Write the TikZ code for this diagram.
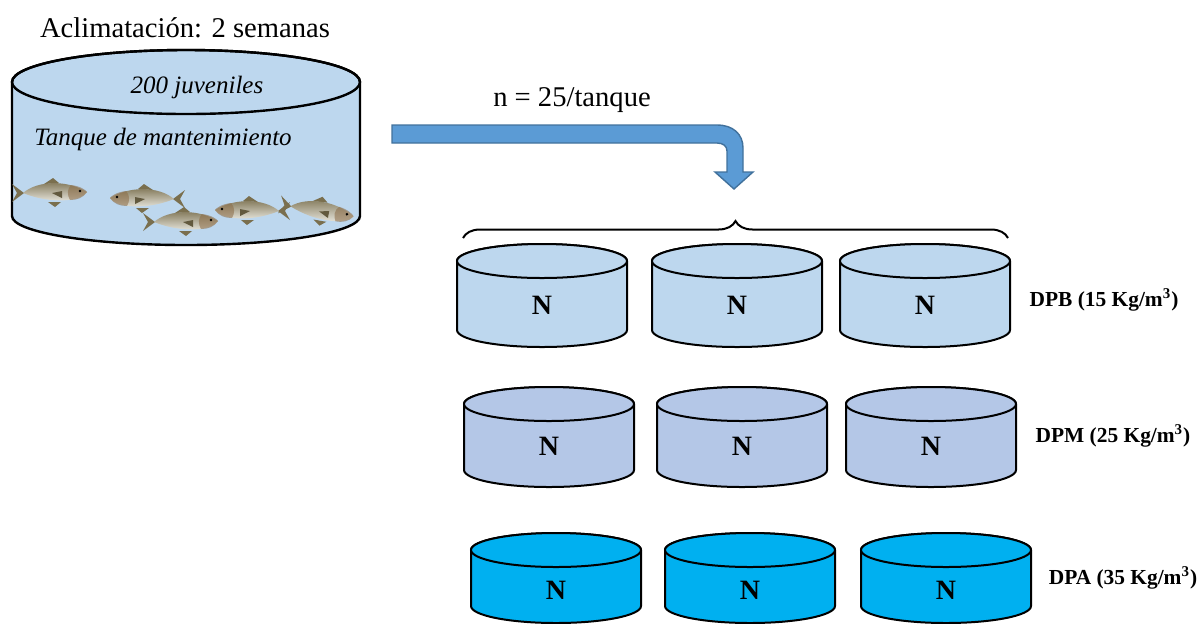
\documentclass[tikz,border=0pt]{standalone}
\usepackage{fontspec}
\setmainfont{Liberation Serif}
\usetikzlibrary{decorations.pathreplacing}
\definecolor{dpbcolor}{HTML}{BDD7EE}
\definecolor{dpmcolor}{HTML}{B4C7E7}
\definecolor{dpacolor}{HTML}{00B0F0}
\definecolor{flechacolor}{HTML}{5B9BD5}
\definecolor{flechaborde}{HTML}{41719C}
\definecolor{pezlomo}{HTML}{7A6F4E}
\definecolor{pezmedio}{HTML}{B8BDB4}
\definecolor{pezvientre}{HTML}{F2F2EC}
\definecolor{pezcabeza}{HTML}{8A6A45}
\tikzset{
	borde/.style={draw=black, line width=1pt},
	etiqueta/.style={font=\fontsize{14.3}{16}\selectfont},
	nota/.style={font=\fontsize{12.5}{15}\selectfont\itshape},
	dosis/.style={font=\fontsize{10.7}{13}\selectfont\bfseries},
	letra/.style={font=\fontsize{14}{16}\selectfont\bfseries},
	llave/.style={decorate, decoration={brace, amplitude=8.5pt}, line width=1pt},
	pics/tanque/.style={code={
		\path[pic actions, borde] (-85,0) -- (-85,#1)
			arc[start angle=180, end angle=0, x radius=85, y radius=17]
			-- (85,0)
			arc[start angle=0, end angle=-180, x radius=85, y radius=17] -- cycle;
		\path[pic actions, borde] (0,0) ellipse[x radius=85, y radius=17];
	}},
	pics/tanque/.default=68,
	pics/pez/.style={code={
		% cola y aletas
		\fill[pezlomo] (-26,0) -- (-38,-9) -- (-33,0) -- (-38,9) -- cycle;
		\fill[pezlomo] (-6,-9) -- (3,-15) -- (9,-10) -- cycle;
		\fill[pezlomo] (-2,9) -- (5,14) -- (11,9) -- cycle;
		% cuerpo
		\shade[top color=pezlomo, middle color=pezmedio, bottom color=pezvientre]
			(-27,0) .. controls (-12,-13) and (18,-13) .. (37,-1)
			.. controls (30,9) and (0,11) .. (-27,0) -- cycle;
		\fill[pezcabeza, opacity=0.55] (21,-8) .. controls (30,-7) and (36,-3) .. (37,-1)
			.. controls (33,5) and (27,7) .. (20,7) .. controls (17,2) and (17,-4) .. (21,-8);
		\fill[pezlomo!80!black] (2,0) -- (12,-2) -- (12,5) -- cycle;
		\fill[black] (30,-2) circle[radius=1.4];
	}},
}

\begin{document}
\begin{tikzpicture}[x=0.5pt, y=-0.5pt]
	\useasboundingbox (0,0) rectangle (1199,623);

	% tanque de mantenimiento
	\filldraw[fill=dpbcolor, draw=black, line width=1.2pt] (12,82) -- (12,216)
		arc[start angle=180, end angle=0, x radius=174, y radius=29]
		-- (360,82)
		arc[start angle=0, end angle=-180, x radius=174, y radius=32] -- cycle;
	\draw[line width=1.2pt] (186,82) ellipse[x radius=174, y radius=32];
	\node[etiqueta] (aclim) at (185,28) {Aclimatación: 2 semanas};
	\node[nota] (juv) at (197,87) {200 juveniles};
	\node[nota] (mant) at (163,139) {Tanque de mantenimiento};

	\pic at (50,193) {pez};
	\pic[xscale=-1] at (147,199) {pez};
	\pic at (181,222) {pez};
	\pic[xscale=-1] at (252,211) {pez};
	\pic[rotate=-10] at (317,211) {pez};

	% flecha de reparto
	\filldraw[fill=flechacolor, draw=flechaborde, line width=0.7pt]
		(392,125) -- (717,125) .. controls (733,125) and (743,134) .. (743,148)
		-- (743,172) -- (753,172) -- (734,189) -- (715,172) -- (727,172) -- (727,151)
		.. controls (727,146) and (723,143) .. (717,143) -- (392,143) -- cycle;
	\node[etiqueta] (n) at (572,100) {n = 25/tanque};

	\coordinate (llave-i) at (463,238);
	\coordinate (llave-d) at (1008,238);
	\draw[llave] (llave-i) -- (llave-d);

	% DPB
	\pic[fill=dpbcolor] at (542,261) {tanque=69};
	\pic[fill=dpbcolor] at (737,261) {tanque=69};
	\pic[fill=dpbcolor] at (925,261) {tanque=69};
	\node[letra] (b1) at (542,305) {N};
	\node[letra] (b2) at (737,305) {N};
	\node[letra] (b3) at (925,305) {N};
	\node[dosis] (dpb) at (1104,300) {DPB (15 Kg/m\textsuperscript{3})};

	% DPM
	\pic[fill=dpmcolor] at (549,404) {tanque=66};
	\pic[fill=dpmcolor] at (742,404) {tanque=66};
	\pic[fill=dpmcolor] at (931,404) {tanque=66};
	\node[letra] (m1) at (549,446) {N};
	\node[letra] (m2) at (742,446) {N};
	\node[letra] (m3) at (931,446) {N};
	\node[dosis] (dpm) at (1113,436) {DPM (25 Kg/m\textsuperscript{3})};

	% DPA
	\pic[fill=dpacolor] at (556,550) {tanque=56};
	\pic[fill=dpacolor] at (750,550) {tanque=56};
	\pic[fill=dpacolor] at (946,550) {tanque=56};
	\node[letra] (a1) at (556,590) {N};
	\node[letra] (a2) at (750,590) {N};
	\node[letra] (a3) at (946,590) {N};
	\node[dosis] (dpa) at (1123,578) {DPA (35 Kg/m\textsuperscript{3})};
\end{tikzpicture}
\end{document}
